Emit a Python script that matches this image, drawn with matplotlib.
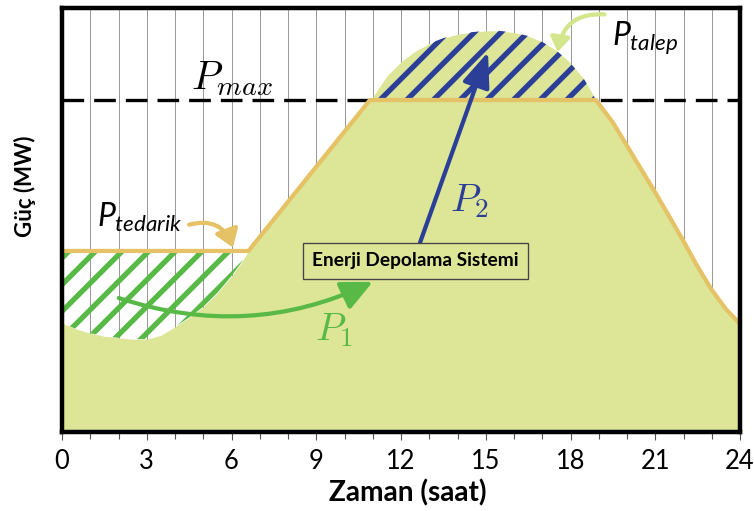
import matplotlib
matplotlib.use('Agg')
import matplotlib.pyplot as plt
from matplotlib.patches import FancyArrowPatch
import numpy as np

# daily demand profile (hours, arbitrary power units 0..100)
hours = np.array([0.0, 0.5, 1.0, 1.5, 2.0, 2.5, 3.0, 3.5, 4.0, 4.5, 5.0, 5.5, 6.0, 6.3, 6.6,
                  10.9, 11.0, 11.5, 12.0, 12.5, 13.0, 13.5, 14.0, 14.5, 15.0, 15.5, 16.0,
                  16.5, 17.0, 17.5, 18.0, 18.5, 18.9, 19.5, 20.0, 20.5, 21.0, 21.5, 22.0,
                  22.5, 23.0, 23.5, 24.0])
demand = np.array([25.7, 24.3, 23.3, 22.6, 22.2, 21.9, 21.9, 22.8, 24.8, 27.0, 29.5, 32.8, 36.8, 39.5, 42.7,
                   78.3, 79.0, 84.0, 87.3, 89.8, 91.6, 92.9, 93.8, 94.3, 94.6, 94.6, 94.2,
                   93.4, 92.0, 90.0, 87.0, 83.0, 78.3, 73.0, 67.5, 62.0, 56.5, 50.8, 45.0,
                   39.0, 33.5, 29.0, 25.5])
p_base = 42.7        # flat supply in the morning
p_max = 78.3         # supply cap
t_ramp = 6.6         # where supply starts following demand

major_ticks = [0, 3, 6, 9, 12, 15, 18, 21, 24]
minor_ticks = list(range(25))

# colours
c_fill = '#dde597'
c_supply = '#e6c266'
c_green = '#58b947'
c_blue = '#2b3f99'
c_light = '#d3e68c'
c_grid = '#9a9a9a'

plt.rcParams['font.family'] = ['Lato', 'DejaVu Sans']
plt.rcParams['mathtext.fontset'] = 'custom'
plt.rcParams['mathtext.it'] = 'Lato:italic'
plt.rcParams['mathtext.rm'] = 'Lato'
plt.rcParams['hatch.linewidth'] = 2.4

DPI = 160
fig = plt.figure(figsize=(754 / DPI, 511 / DPI), dpi=DPI)
ax = fig.add_axes([62 / 754, 1 - 432 / 511, 678 / 754, 424 / 511])

supply = np.where(hours < t_ramp, p_base, np.minimum(demand, p_max))

# grid behind everything
ax.set_axisbelow(True)
ax.set_xticks(major_ticks)
ax.set_xticks(minor_ticks, minor=True)
ax.grid(axis='x', which='both', color=c_grid, lw=0.45)

ax.axhline(p_max, color='black', lw=1.5, dashes=(6.5, 3.0), zorder=0.8)

ax.fill_between(hours, 0, demand, color=c_fill, lw=0, zorder=1)

# charging region (green hatch) and discharging region (blue hatch)
ax.fill_between(hours, demand, supply, where=hours <= t_ramp, facecolor='none',
                edgecolor=c_green, hatch='//', lw=0, zorder=1.5)
ax.fill_between(hours, p_max, demand, where=demand >= p_max, facecolor='none',
                edgecolor=c_blue, hatch='//', lw=0, zorder=1.5)

ax.plot(hours, supply, color=c_supply, lw=1.9, zorder=2, solid_capstyle='butt')

ax.set_xlim(0, 24)
ax.set_ylim(0, 100)
ax.set_yticks([])
for sp in ax.spines.values():
    sp.set_linewidth(2.0)
    sp.set_color('black')
    sp.set_zorder(5)
ax.tick_params(axis='x', which='both', direction='out', color='#555555', width=0.5,
               length=3.6, pad=4, labelsize=11.5)
ax.tick_params(axis='x', which='minor', length=3.0)

fig.text(408 / 754, 1 - 493 / 511, 'Zaman (saat)', ha='center', va='center',
         fontsize=12.6, fontweight='bold')
fig.text(25 / 754, 1 - 186 / 511, 'Güç (MW)', ha='center', va='center',
         rotation=90, fontsize=10, fontweight='bold')

# labels
ax.text(4.55, 80.9, r'$P_{max}$', math_fontfamily='cm', fontsize=18, ha='left', va='baseline')
ax.text(13.73, 52.1, r'$P_2$', math_fontfamily='cm', fontsize=17.5, ha='left', va='baseline',
        color=c_blue, zorder=6)
ax.text(8.96, 21.5, r'$P_1$', math_fontfamily='cm', fontsize=17.5, ha='left', va='baseline',
        color=c_green, zorder=6)
ax.text(1.24, 48.3, r'$P_{tedarik}$', fontsize=14.4, ha='left', va='baseline', zorder=6)
ax.text(19.47, 91.3, r'$P_{talep}$', fontsize=14.4, ha='left', va='baseline', zorder=6)

ax.text(12.51, 40.4, 'Enerji Depolama Sistemi', ha='center', va='center', fontsize=8.6,
        fontweight='bold', zorder=7,
        bbox=dict(boxstyle='square,pad=0.5', facecolor=c_fill, edgecolor='#444444', lw=0.6))

# arrows
a1 = FancyArrowPatch((2.01, 31.6), (11.0, 35.4), connectionstyle='arc3,rad=0.2',
                     arrowstyle='-|>,head_length=0.85,head_width=0.4', mutation_scale=14,
                     color=c_green, lw=1.9, zorder=6, shrinkA=0, shrinkB=0)
ax.add_patch(a1)
a2 = FancyArrowPatch((12.67, 44.6), (15.08, 89.6), connectionstyle='arc3,rad=0',
                     arrowstyle='-|>,head_length=0.95,head_width=0.38', mutation_scale=14,
                     color=c_blue, lw=1.9, zorder=6, shrinkA=0, shrinkB=0)
ax.add_patch(a2)
a3 = FancyArrowPatch((4.5, 48.9), (6.05, 43.5), connectionstyle='arc3,rad=-0.45',
                     arrowstyle='-|>,head_length=0.65,head_width=0.45', mutation_scale=10,
                     color=c_supply, lw=1.9, zorder=6, shrinkA=0, shrinkB=0)
ax.add_patch(a3)
a4 = FancyArrowPatch((19.2, 98.5), (17.55, 89.6), connectionstyle='arc3,rad=0.45',
                     arrowstyle='-|>,head_length=0.6,head_width=0.4', mutation_scale=9,
                     color=c_light, lw=1.9, zorder=6, shrinkA=0, shrinkB=0, clip_on=False)
ax.add_patch(a4)

fig.savefig('out.png', dpi=DPI)
